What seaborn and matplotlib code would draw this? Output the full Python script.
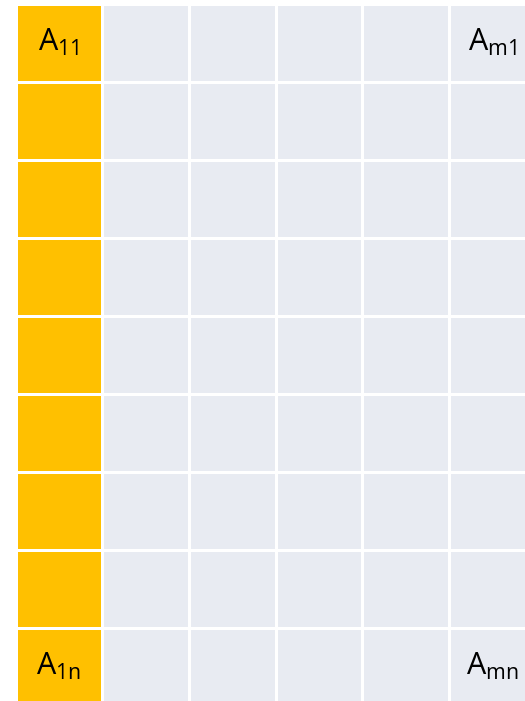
import matplotlib
matplotlib.use("Agg")
import matplotlib.pyplot as plt
import seaborn as sns
import numpy as np
from matplotlib.colors import ListedColormap

# grid layout: 9 rows x 6 columns, first column highlighted
n_rows = 9
row_pattern = [1, 0, 0, 0, 0, 0]
corner_labels = {
    (0, 0): r"$\mathregular{A_{11}}$",
    (0, 5): r"$\mathregular{A_{m1}}$",
    (8, 0): r"$\mathregular{A_{1n}}$",
    (8, 5): r"$\mathregular{A_{mn}}$",
}

cells = np.array([row_pattern] * n_rows)
labels = np.full(cells.shape, "", dtype=object)
for (r, c), txt in corner_labels.items():
    labels[r, c] = txt

sns.set_theme(style="white")
plt.rcParams['font.family'] = ['Open Sans', 'DejaVu Sans']

fig = plt.figure(figsize=(5.25, 7.01), dpi=100)
# axes runs past the right and bottom edges, as in the reference crop
top = 1 - 3.5 / 701
ax = fig.add_axes([15.5 / 525, top - 702 / 701, 520 / 525, 702 / 701])

cmap = ListedColormap(["#E8EBF2", "#FFC000"])
sns.heatmap(cells, ax=ax, cmap=cmap, vmin=0, vmax=1, cbar=False,
            linewidths=1.8, linecolor="white",
            annot=labels, fmt="", annot_kws={"color": "black", "fontsize": 22})

ax.set_xticks([])
ax.set_yticks([])
for s in ax.spines.values():
    s.set_visible(False)

fig.savefig("out.png", dpi=100, facecolor="white")
